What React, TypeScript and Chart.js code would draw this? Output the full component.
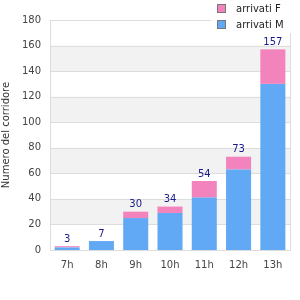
import React, { useEffect, useRef } from "react";
import { Chart, registerables } from "chart.js";

Chart.register(...registerables);

const categories = ["7h", "8h", "9h", "10h", "11h", "12h", "13h"];
const arrivatiM = [2, 7, 25, 29, 41, 63, 130];
const arrivatiF = [1, 0, 5, 5, 13, 10, 27];
const totals = [3, 7, 30, 34, 54, 73, 157];
const yTicks = [0, 20, 40, 60, 80, 100, 120, 140, 160, 180];

const PINK = "#f283bd";
const BLUE = "#62a9f5";
const FONT = "'DejaVu Sans', sans-serif";

const bandsPlugin = {
  id: "bands",
  beforeDatasetsDraw(chart: any) {
    const { ctx, chartArea, scales } = chart;
    const y = scales.y;
    ctx.save();
    ctx.fillStyle = "#f2f2f2";
    for (let i = 1; i < yTicks.length - 1; i += 2) {
      const top = y.getPixelForValue(yTicks[i + 1]);
      const bot = y.getPixelForValue(yTicks[i]);
      ctx.fillRect(chartArea.left, top, chartArea.right - chartArea.left, bot - top);
    }
    ctx.restore();
  },
};

const gridRedraw = {
  id: "gridRedraw",
  beforeDatasetsDraw(chart: any) {
    const { ctx, chartArea, scales } = chart;
    const y = scales.y;
    ctx.save();
    ctx.strokeStyle = "#dddddd";
    ctx.lineWidth = 1;
    for (const v of yTicks) {
      const py = Math.round(y.getPixelForValue(v)) + 0.5;
      ctx.beginPath();
      ctx.moveTo(chartArea.left, py);
      ctx.lineTo(chartArea.right, py);
      ctx.stroke();
    }
    ctx.beginPath();
    ctx.moveTo(Math.round(chartArea.right) + 0.5, chartArea.top);
    ctx.lineTo(Math.round(chartArea.right) + 0.5, chartArea.bottom);
    ctx.moveTo(Math.round(chartArea.left) + 0.5, chartArea.top);
    ctx.lineTo(Math.round(chartArea.left) + 0.5, chartArea.bottom);
    ctx.stroke();
    ctx.restore();
  },
};

const labelsPlugin = {
  id: "totals",
  afterDatasetsDraw(chart: any) {
    const { ctx, scales } = chart;
    const meta = chart.getDatasetMeta(0);
    ctx.save();
    ctx.fillStyle = "#1a1a8c";
    ctx.font = `10px ${FONT}`;
    ctx.textAlign = "center";
    ctx.textBaseline = "bottom";
    totals.forEach((t, i) => {
      const x = meta.data[i].x;
      const yy = scales.y.getPixelForValue(t);
      ctx.fillText(String(t), x, yy - 2);
    });
    ctx.restore();
  },
};

const legendPlugin = {
  id: "customLegend",
  afterDraw(chart: any) {
    const { ctx } = chart;
    ctx.save();
    ctx.fillStyle = "#ffffff";
    ctx.fillRect(211, 0, 89, 33);
    const items = [
      { label: "arrivati F", color: PINK, y: 9 },
      { label: "arrivati M", color: BLUE, y: 25 },
    ];
    ctx.font = `10px ${FONT}`;
    ctx.textBaseline = "middle";
    ctx.textAlign = "left";
    for (const it of items) {
      ctx.fillStyle = it.color;
      ctx.fillRect(217.5, it.y - 4.5, 8, 8);
      ctx.strokeStyle = "#777777";
      ctx.lineWidth = 1;
      ctx.strokeRect(217.5, it.y - 4.5, 8, 8);
      ctx.fillStyle = "#222222";
      ctx.fillText(it.label, 236, it.y);
    }
    ctx.restore();
  },
};

export default function App() {
  const ref = useRef<HTMLCanvasElement>(null);
  useEffect(() => {
    document.body.style.margin = "0";
    if (!ref.current) return;
    const chart = new Chart(ref.current, {
      type: "bar",
      data: {
        labels: categories,
        datasets: [
          { label: "arrivati M", data: arrivatiM, backgroundColor: BLUE, barPercentage: 0.73, categoryPercentage: 1 },
          { label: "arrivati F", data: arrivatiF, backgroundColor: PINK, barPercentage: 0.73, categoryPercentage: 1 },
        ],
      },
      options: {
        animation: false,
        responsive: false,
        maintainAspectRatio: false,
        layout: { padding: { top: 20, right: 10, left: 0, bottom: 0 } },
        plugins: { legend: { display: false }, tooltip: { enabled: false } },
        scales: {
          x: {
            stacked: true,
            grid: { display: false, drawTicks: false },
            border: { display: true, color: "#dddddd" },
            ticks: { color: "#444444", font: { family: FONT, size: 10 }, padding: 9 },
            afterFit: (s: any) => { s.height = 50; },
          },
          y: {
            stacked: true,
            min: 0,
            max: 180,
            grid: { display: false, drawTicks: false },
            border: { display: false },
            ticks: { stepSize: 20, color: "#444444", font: { family: FONT, size: 10 }, padding: 9 },
            title: { display: true, text: "Numero del corridore", color: "#333333", font: { family: FONT, size: 10 }, padding: 0 },
            afterFit: (s: any) => { s.width = 50; },
          },
        },
      },
      plugins: [bandsPlugin, gridRedraw, labelsPlugin, legendPlugin],
    });
    return () => chart.destroy();
  }, []);
  return (
    <div style={{ width: 300, height: 300 }}>
      <canvas ref={ref} width={300} height={300} />
    </div>
  );
}
